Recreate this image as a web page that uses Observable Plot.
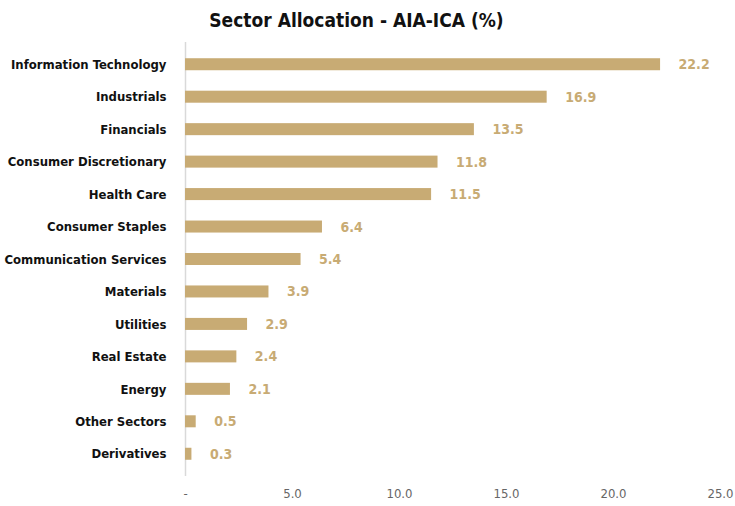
<!DOCTYPE html>
<html>
<head>
<meta charset="utf-8">
<script src="https://cdn.jsdelivr.net/npm/d3@7"></script>
<script src="https://cdn.jsdelivr.net/npm/@observablehq/plot@0.6"></script>
<style>
  body { margin: 0; background: #fff; }
  #title { height: 36px; line-height: 40px; text-align: center; padding-right: 22px;
    font-family: "Liberation Sans Narrow", "DejaVu Sans Condensed", sans-serif; font-weight: bold; font-size: 19px; color: #111; }
  svg { font-family: "Liberation Sans Narrow", "DejaVu Sans Condensed", sans-serif; }
</style>
</head>
<body>
<div id="title">Sector Allocation - AIA-ICA (%)</div>
<div id="chart"></div>
<script>
const sectors = ["Information Technology","Industrials","Financials","Consumer Discretionary","Health Care","Consumer Staples","Communication Services","Materials","Utilities","Real Estate","Energy","Other Sectors","Derivatives"];
const weights = [22.2,16.9,13.5,11.8,11.5,6.4,5.4,3.9,2.9,2.4,2.1,0.5,0.3];
const xTicks = [0,5,10,15,20,25];

const data = sectors.map((s,i) => ({sector: s, value: weights[i]}));
const gold = "#c8ab74";

const chart = Plot.plot({
  width: 735,
  height: 470,
  marginTop: 6,
  marginBottom: 30,
  marginLeft: 185,
  marginRight: 15,
  x: {domain: [0,25], ticks: xTicks, tickFormat: d => d === 0 ? "-" : d.toFixed(1), tickSize: 0, tickPadding: 14, label: null},
  y: {domain: sectors, round: false, paddingInner: 0.63, paddingOuter: 0.5, label: null, tickSize: 0, tickPadding: 19},
  style: {fontSize: "13px"},
  marks: [
    Plot.ruleX([0], {stroke: "#d9d9d9", strokeWidth: 1.5}),
    Plot.barX(data, {x: "value", y: "sector", fill: gold}),
    Plot.text(data, {x: "value", y: "sector", text: d => d.value.toFixed(1), textAnchor: "start", dx: 18, fill: gold, fontWeight: "bold", fontSize: 14}),
    Plot.axisY({tickSize: 0, tickPadding: 19, fontWeight: "bold", fontSize: 13, fill: "#111"}),
    Plot.axisX({ticks: xTicks, tickFormat: d => d === 0 ? "-" : d.toFixed(1), tickSize: 0, tickPadding: 12, fill: "#666", fontSize: 13})
  ]
});
document.getElementById("chart").appendChild(chart);
</script>
</body>
</html>
